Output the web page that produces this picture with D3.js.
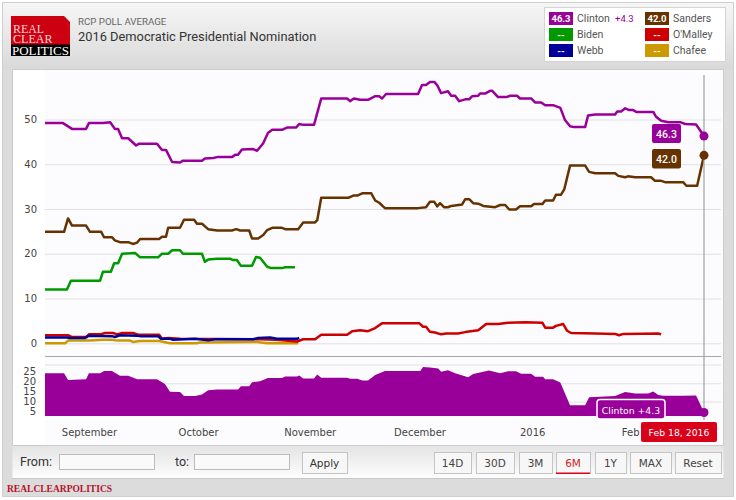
<!DOCTYPE html>
<html>
<head>
<meta charset="utf-8">
<script src="https://cdnjs.cloudflare.com/ajax/libs/d3/7.8.5/d3.min.js"></script>
<style>
    html, body { margin: 0; padding: 0; background: #fff; }
    svg { display: block; }
    text { font-family: Roboto, sans-serif; }
    .tick text { font-family: "DejaVu Sans", sans-serif; }
</style>
</head>
<body>
<svg id="chart" width="736" height="500"></svg>
<script>
// x values are days since Aug 19 2015
const clintonDays = [0,5,7.5,11.4,12.2,16.1,18.1,19.4,20.3,21.4,23.1,25.3,26.1,31.1,32.5,33.6,35.3,37.5,38.3,43.6,44.4,46.7,47.8,51.9,52.8,53.6,54.7,57.8,58.9,60.6,61.9,63.1,65.8,67.2,69.7,70.6,71.7,74.7,76.7,83.9,84.7,85.8,87.5,89.7,91.7,92.8,93.6,94.7,103.6,104.7,105.8,106.9,108.1,108.9,110,111.9,112.8,113.9,115,116.7,117.8,118.6,120.3,120.8,122.2,123.6,124.2,125.8,128.1,129.2,131.1,131.9,135,136.1,137.8,138.9,141.1,143.1,144.4,145.8,146.9,150,150.8,152.8,158.3,158.9,160,161.1,162.2,163.3,164.2,168.9,169.7,171.1,173.1,176.4,177.8,180.8,183];
const clintonVals = [49.2,49.2,47.9,47.9,49.2,49.2,49.4,47.9,47.9,45.8,45.8,44.2,44.6,44.6,43.2,43.2,40.5,40.4,40.8,40.8,41.3,41.4,41.6,41.6,42.1,42.1,43.3,43.4,43,44.7,47,47.7,47.7,48.2,48.2,49,48.8,48.8,54.7,54.7,54.1,54.7,54.4,54.4,55.2,55.2,54.7,55.7,55.7,57.7,57.7,58.4,58.4,57.7,55.9,56.3,55.3,55.3,54.1,54.5,54.5,55.2,55.3,55.8,55.8,56.4,56.4,55,55,55.3,55.3,54.7,54.7,53.8,53.8,53.2,53.2,52.6,49.9,48.5,48.3,48.3,50.9,51.1,51.1,51.8,51.8,52.5,52.1,52.1,51.7,51.7,50.6,49.7,49.4,49.4,49,48.9,46.3];

const sandersDays = [0,5.3,6.4,7.5,11.4,12.5,15.6,16.4,18.6,19.4,20.8,23.1,24.4,25.6,26.4,31.7,32.5,33.6,34.2,37.5,38.6,41.4,42.2,43.6,45.3,47.8,51.9,53.1,54.2,56.7,57.5,59.2,60.6,61.7,63.1,65.8,66.7,70.3,71.7,75,75.6,76.7,84.2,85.6,86.7,88.1,90.6,91.7,92.8,94.4,103.6,105.8,106.9,108.1,108.9,109.7,110.8,111.9,112.8,115.8,116.7,117.8,118.9,120.3,121.7,125,126.4,127.8,128.9,130.8,131.9,135,135.8,138.1,138.9,141.1,141.9,143.3,144.2,145.8,150,151.1,152.8,158.3,159.2,161.1,161.9,163.9,168.3,169.4,171.1,172.2,177.2,178.1,181.1,183];
const sandersVals = [24.9,24.9,27.9,26.3,26.3,24.9,24.9,23.7,23.7,23,22.6,22.6,22.2,22.5,23.3,23.3,23.8,23.8,25.8,25.8,27.6,27.6,26.7,26.7,25.5,25.2,25.2,25.5,25.2,25.2,23.4,23.4,24.2,25.3,25.8,25.8,25.5,25.5,27,27,27.5,32.5,32.5,33,33,33.5,33.5,31.9,31.4,30.2,30.2,30.4,31.6,31.6,30.6,31.3,30.4,30.4,30.7,31,32.2,32.2,31.3,31.2,30.7,30.4,30.9,30.9,29.9,29.9,30.6,30.6,31.1,31.1,31.9,31.9,33.2,33.2,34.4,39.7,39.7,38.3,38,38,37.4,37.1,37.3,37.1,37.1,36.3,36.3,36,36,35.2,35.2,42];

const bidenDays = [0,6.1,7.2,15.3,16.1,18.3,19.2,20.3,21.4,25,26.4,31.4,32.5,34.2,35.3,37.5,38.3,43.6,44.4,45.3,47.8,51.4,52.2,53.3,54.4,57.5,58.6,59.7,61.7,62.8,65.8,66.7,69.4];
const bidenVals = [12,12,14,14,16,16,17.9,17.9,20,20.2,19.2,19.2,20,20,20.8,20.8,20,20,18.2,18.7,18.9,18.9,18.6,18.6,17.3,17.3,19.3,19.1,17.1,16.8,16.8,17,17];

const omalleyDays = [0,6.4,7.5,11.7,12.2,15.3,16.7,18.9,20,21.4,24.4,25.8,31.7,32.5,34.2,37.5,59.7,63.9,66.7,70,71.7,75,76.7,83.9,85.3,87.5,89.7,91.7,93.6,103.9,105,105.8,106.9,108.3,110,111.4,114.7,116.7,120.3,122.5,125.8,128.6,133.3,138.1,138.9,141.1,141.9,143.9,145,146.1,152.8,158.3,159.4,160.6,170.3,171.1];
const omalleyVals = [1.8,1.8,1.4,1.4,2,2,2.3,2.3,2,2.3,2.3,1.9,1.9,1,1.2,1,0.9,0.8,0.6,0.4,0.9,0.9,1.9,1.9,2.7,2.9,2.7,3.4,4.5,4.5,3.7,3.7,2.6,2.4,2,2.2,2.2,2.5,2.9,4.3,4.3,4.6,4.7,4.6,3.5,3.5,3.9,4.3,2.8,2.3,2.2,2.1,1.8,2.1,2.2,2];

const webbDays = [0,6.1,6.9,11.1,11.9,18.6,19.4,20.8,25.6,26.4,31.4,32.2,34.7,35.6,41.7,45.3,47.2,57.8,59.2,62.5,64.4,70,70.6];
const webbVals = [1.3,1.3,1.2,1.2,1.7,1.6,1.4,1.8,1.7,1.6,1.6,1,1,0.8,1,0.7,0.9,0.9,1.2,1.3,1,1,1.2];

const chafeeDays = [0,5.6,6.4,11.7,12.5,16.1,18.6,20,23.6,24.4,26.4,31.7,34.7,42.2,43.1,58.9,61.7,70.3];
const chafeeVals = [0,0,0.6,0.6,0.6,0.8,0.8,0.6,0.6,0.3,0.5,0.5,0,0,0.2,0.3,0,0];

const spreadDays = [0,5.3,6.4,11.4,12.2,15.3,16.4,18.6,20.8,23.1,25.6,31.1,33.3,34.7,37.5,38.6,41.7,43.6,45.3,47.8,53.6,54.4,56.7,57.5,59.7,61.9,65.8,66.7,70,70.6,71.7,74.7,75.6,76.7,83.9,84.7,86.7,88.1,89.7,91.7,94.4,104.2,105,106.9,109.2,110,111.9,113.9,117.5,118.9,123.3,126.4,128.6,130.8,132.2,135,136.1,138.3,138.9,141.1,143.1,145.8,150,151.1,158.3,161.1,163.9,167.5,168.9,170.3,171.7,177.2,180.8,182.5,183];
const spreadVals = [24.2,24.2,20.8,21.2,24.2,24.2,25.4,25.4,23,23,21.2,21.2,18.8,14.9,14.7,12.7,12.7,13.5,15.6,16,16,17.7,17.7,19.7,20.2,21.8,21.8,22.6,22.6,23.1,21.6,21.6,23.6,22,22,21.5,21.5,20.5,20.5,23.4,25.4,25.4,27.4,27.1,26.7,25,25.7,24.2,22.2,23.9,25.6,24.2,25.2,25.2,24,24,22.4,22.4,21.2,21.2,19.5,8,8,12,12.7,14.7,14,14,15,13.2,12.8,12.8,13,6.4,4.3];

const monthDays = [12.2,42.5,73.5,104,135.3,162.5];
const monthLabels = ['September','October','November','December','2016','Feb'];
const yTicks = [0,10,20,30,40,50];
const spreadTicks = [5,10,15,20,25];
const spreadGrid = [9.6,18.9,28.4];

const legendNames = ['Clinton','Sanders','Biden',"O'Malley",'Webb','Chafee'];
const legendColors = ['#990099','#663300','#009900','#cc0000','#000099','#cc9900'];
const legendValues = ['46.3','42.0','--','--','--','--'];
const rangeButtons = ['14D','30D','3M','6M','1Y','MAX','Reset'];
const buttonEdges = [[434,471],[476,514],[519,552],[556,590],[595,626],[630,671],[675,721]];

const svg = d3.select('#chart');

const x = d3.scaleLinear().domain([0,183]).range([45,704]);
const y = d3.scaleLinear().domain([0,50]).range([343.3,119.5]);
const ySpread = d3.scaleLinear().domain([0,25]).range([421,371.75]);

const defs = svg.append('defs');
function gradient(id, top, bottom) {
    let g = defs.append('linearGradient').attr('id', id).attr('x1', 0).attr('x2', 0).attr('y1', 0).attr('y2', 1);
    g.append('stop').attr('offset', 0).attr('stop-color', top);
    g.append('stop').attr('offset', 1).attr('stop-color', bottom);
}
gradient('headGrad', '#f6f6f6', '#d9d9d9');
gradient('barGrad', '#e4e4e4', '#fdfdfd');

function rect(x0, y0, w, h, fill, stroke) {
    return svg.append('rect').attr('x', x0).attr('y', y0).attr('width', w).attr('height', h)
        .attr('fill', fill).attr('stroke', stroke || 'none');
}
function label(str, px, py, size, color, anchor) {
    return svg.append('text').attr('x', px).attr('y', py).attr('font-size', size)
        .attr('fill', color).attr('text-anchor', anchor || 'start').text(str);
}

// page frame
rect(2.5, 2.5, 731, 494, '#dcdcdc', '#cfcfcf');
rect(3, 3, 730, 66, 'url(#headGrad)');
rect(12.5, 69.5, 711, 376, '#ffffff', '#cccccc');
rect(45, 70, 678, 375, '#fcfcfe');
rect(12.5, 446, 711, 32, 'url(#barGrad)');
svg.append('line').attr('x1', 12).attr('x2', 724).attr('y1', 478.5).attr('y2', 478.5).attr('stroke', '#c8c8c8');

// logo
svg.append('path').attr('d', 'M11 16H64L70 22V56H11Z').attr('fill', '#cc0011');
rect(11, 44.5, 59, 11.5, '#000000');
[['REAL', 32.5, 31], ['CLEAR', 43, 39.5]].forEach(d => {
    label(d[0], 13, d[1], 12.5, '#f7d5d5').style('font-family', '"Liberation Serif", serif')
        .attr('textLength', d[2]).attr('lengthAdjust', 'spacingAndGlyphs');
});
label('POLITICS', 12, 54.5, 12.5, '#ffffff').style('font-family', '"Liberation Serif", serif')
    .attr('textLength', 57).attr('lengthAdjust', 'spacingAndGlyphs');

label('RCP POLL AVERAGE', 78, 25, 9.7, '#666666');
label('2016 Democratic Presidential Nomination', 78, 41, 12.85, '#333333');

// legend
rect(544.5, 7.5, 181, 54, '#ffffff', '#d4d4d4');
legendNames.forEach((name, i) => {
    let col = i % 2, row = Math.floor(i / 2);
    let sx = col ? 645 : 549, sy = 12 + row * 16;
    rect(sx, sy, 24, 13, legendColors[i]);
    label(legendValues[i], sx + 12, sy + 10, 9.5, '#ffffff', 'middle').attr('font-weight', 700);
    label(name, sx + 28, sy + 10, 10.5, '#555555');
});
label('+4.3', 615, 22, 9.5, '#990099');

// main axis + grid
const yAxis = svg.append('g').attr('transform', 'translate(45,0)')
    .call(d3.axisLeft(y).tickValues(yTicks).tickSize(-676).tickPadding(8));
yAxis.select('.domain').remove();
yAxis.selectAll('line').attr('stroke', '#e2e2e6');
yAxis.selectAll('text').attr('font-size', 10).attr('fill', '#444444');

// lines, same order as the site draws them
const line = d3.line().x(d => x(d[0])).y(d => y(d[1]));
const allSeries = [
    [chafeeDays, chafeeVals, '#cc9900'],
    [omalleyDays, omalleyVals, '#cc0000'],
    [webbDays, webbVals, '#000099'],
    [bidenDays, bidenVals, '#009900'],
    [sandersDays, sandersVals, '#663300'],
    [clintonDays, clintonVals, '#990099']
];
allSeries.forEach(s => {
    svg.append('path').datum(d3.zip(s[0], s[1])).attr('d', line)
        .attr('fill', 'none').attr('stroke', s[2]).attr('stroke-width', 2.5)
        .attr('stroke-linejoin', 'round');
});

// divider between the charts
svg.append('line').attr('x1', 45).attr('x2', 721).attr('y1', 356.5).attr('y2', 356.5).attr('stroke', '#a8a8a8');

// spread panel
const spreadAxis = svg.append('g').attr('transform', 'translate(45,0)')
    .call(d3.axisLeft(ySpread).tickValues(spreadTicks).tickSize(0).tickPadding(9));
spreadAxis.select('.domain').remove();
spreadAxis.selectAll('text').attr('font-size', 10).attr('fill', '#444444');
spreadGrid.forEach(v => {
    svg.append('line').attr('x1', 45).attr('x2', 721).attr('y1', ySpread(v)).attr('y2', ySpread(v)).attr('stroke', '#e2e2e6');
});
const area = d3.area().x(d => x(d[0])).y0(ySpread(2.5)).y1(d => ySpread(d[1]));
svg.append('path').datum(d3.zip(spreadDays, spreadVals)).attr('d', area).attr('fill', '#990099');

// month labels
const xAxis = svg.append('g').attr('transform', 'translate(0,436)')
    .call(d3.axisBottom(x).tickValues(monthDays).tickFormat((d, i) => monthLabels[i]).tickSize(0).tickPadding(0));
xAxis.select('.domain').remove();
xAxis.selectAll('text').attr('font-size', 10).attr('fill', '#444444').attr('dy', 0);

// crosshair and hover markers
const lastDay = 183;
svg.append('line').attr('x1', x(lastDay)).attr('x2', x(lastDay)).attr('y1', 75).attr('y2', 420).attr('stroke', '#a0a0a0').attr('stroke-width', 1.2);
svg.append('circle').attr('cx', x(lastDay)).attr('cy', y(46.3)).attr('r', 4.5).attr('fill', '#990099');
svg.append('circle').attr('cx', x(lastDay)).attr('cy', y(42)).attr('r', 4.5).attr('fill', '#663300');
svg.append('circle').attr('cx', x(lastDay)).attr('cy', ySpread(4.3)).attr('r', 4.5).attr('fill', '#990099');

rect(652, 124, 29, 19, '#990099').attr('rx', 2);
label('46.3', 666.5, 137.5, 10.5, '#ffffff', 'middle').attr('font-weight', 500);
rect(652, 149, 29, 19.5, '#663300').attr('rx', 2);
label('42.0', 666.5, 162.5, 10.5, '#ffffff', 'middle').attr('font-weight', 500);

rect(597, 399.5, 68, 19.5, '#990099', '#ffffff').attr('rx', 3).attr('stroke-width', 1.5);
label('Clinton +4.3', 631, 413.5, 9.3, '#ffffff', 'middle').style('font-family', '"DejaVu Sans", sans-serif');
rect(641, 422, 76, 20, '#d9001a').attr('rx', 2);
label('Feb 18, 2016', 679, 436, 9.3, '#ffffff', 'middle').style('font-family', '"DejaVu Sans", sans-serif');

// date range form
label('From:', 20, 466, 12.5, '#333333').style('font-family', 'Roboto, sans-serif');
rect(59.5, 454.5, 95, 15, '#fafafa', '#bbbbbb');
label('to:', 175, 466, 12.5, '#333333').style('font-family', 'Roboto, sans-serif');
rect(194.5, 454.5, 95, 15, '#fafafa', '#bbbbbb');

function button(str, x0, x1, color) {
    rect(x0 + .5, 452.5, x1 - x0, 21, '#f7f7f7', '#c4c4c4');
    label(str, (x0 + x1) / 2, 466.5, 10.5, color, 'middle').style('font-family', '"DejaVu Sans", sans-serif');
}
button('Apply', 302, 347, '#333333');
rangeButtons.forEach((b, i) => {
    button(b, buttonEdges[i][0], buttonEdges[i][1], b === '6M' ? '#cc2222' : '#444444');
});
rect(556, 472.5, 34, 1.5, '#d9001a');

label('REALCLEARPOLITICS', 7, 492, 9.5, '#b5122b').style('font-family', '"Liberation Serif", serif').attr('font-weight', 700);
</script>
</body>
</html>
